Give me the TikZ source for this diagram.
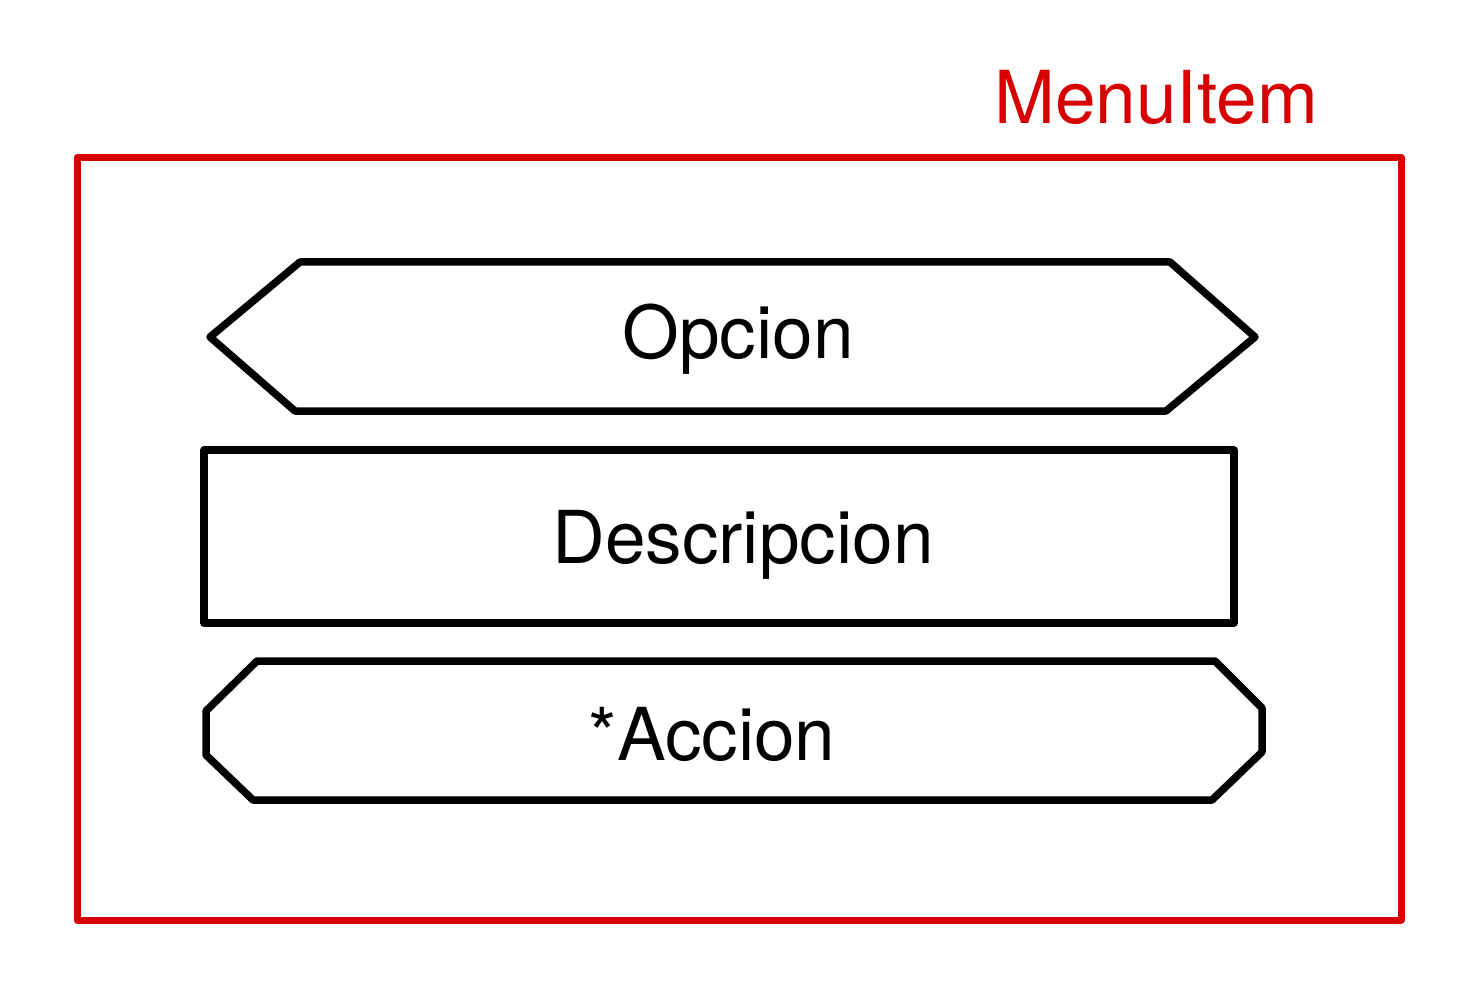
\documentclass[tikz,border=0pt]{standalone}
\usepackage{fontspec}
\setmainfont{TeX Gyre Heros}
\definecolor{menured}{RGB}{214,0,0}
\begin{document}
\begin{tikzpicture}[x=1pt,y=-1pt,
  outline/.style={draw=black,line width=7.5pt,line join=round},
  frame/.style={draw=menured,line width=7pt,line join=round},
  lbl/.style={anchor=base,inner sep=0pt,font=\fontsize{73}{88}\selectfont}]
\useasboundingbox (0,0) rectangle (1480,1000);
% container
\draw[frame] (77,157.5) rectangle (1401,920);
\node[lbl,text=menured] (title) at (1156,124) {MenuItem};
% Opcion
\draw[outline] (210,337) -- (300,262) -- (1170,262) -- (1255,337) -- (1166,411) -- (295,411) -- cycle;
\node[lbl] (opcion) at (738,358) {Opcion};
% Descripcion
\draw[outline] (204,450) rectangle (1234,623);
\node[lbl] (descripcion) at (743,563) {Descripcion};
% Accion
\draw[outline] (257,661) -- (1215,661) -- (1262,708) -- (1262,752) -- (1212,800) -- (253,800) -- (206,755) -- (206,711) -- cycle;
\node[lbl] (accion) at (712,760) {*Accion};
\end{tikzpicture}
\end{document}
